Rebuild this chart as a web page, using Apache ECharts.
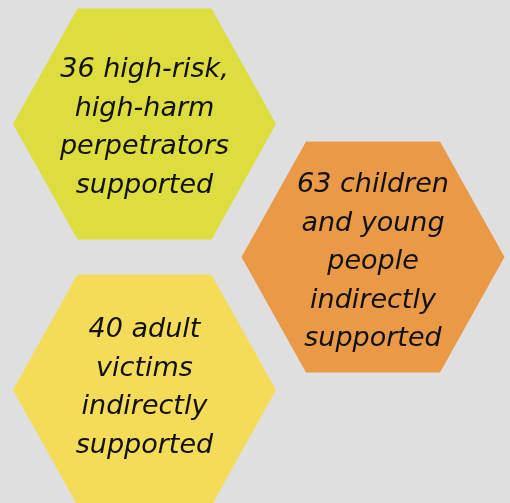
<!DOCTYPE html>
<html>
<head>
<meta charset="utf-8">
<script src="https://cdn.jsdelivr.net/npm/echarts@6/dist/echarts.min.js"></script>
<style>
html,body{margin:0;padding:0;background:#e0dfe0;}
#c{width:510px;height:503px;}
</style>
</head>
<body>
<div id="c"></div>
<script>
// Data
var values = [36, 63, 40];
var descriptions = [
  'high-risk,\nhigh-harm\nperpetrators\nsupported',
  'children\nand young\npeople\nindirectly\nsupported',
  'adult\nvictims\nindirectly\nsupported'
];
var colors = ['#dddd3e', '#ea9a47', '#f5dc58'];
// honeycomb slots (column, row)
var slots = [[0, 0], [1, 1], [0, 2]];

var chart = echarts.init(document.getElementById('c'));
var seriesData = values.map(function (v, i) {
  return { value: [slots[i][0], slots[i][1], v], itemStyle: { color: colors[i] } };
});

chart.setOption({
  backgroundColor: '#e0dfe0',
  animation: false,
  grid: { left: 144.5, right: 137, top: 124, bottom: 113 },
  xAxis: { type: 'value', min: 0, max: 1, show: false },
  yAxis: { type: 'value', min: 0, max: 2, inverse: true, show: false },
  series: [{
    type: 'custom',
    data: seriesData,
    renderItem: function (params, api) {
      var c = api.coord([api.value(0), api.value(1)]);
      var hw = 131.5, hh = 115.5, tw = 67;
      var idx = params.dataIndex;
      var pts = [
        [c[0] - tw, c[1] - hh], [c[0] + tw, c[1] - hh], [c[0] + hw, c[1]],
        [c[0] + tw, c[1] + hh], [c[0] - tw, c[1] + hh], [c[0] - hw, c[1]]
      ];
      var txt = api.value(2) + ' ' + descriptions[idx];
      var dy = [4, 5, -2][idx];
      return {
        type: 'group',
        children: [{
          type: 'polygon',
          shape: { points: pts },
          style: { fill: colors[idx] }
        }, {
          type: 'text',
          x: c[0], y: c[1] + dy,
          style: {
            text: txt,
            fill: '#111',
            font: 'italic 27px "DejaVu Sans", sans-serif',
            lineHeight: 38.5,
            align: 'center',
            verticalAlign: 'middle'
          }
        }]
      };
    }
  }]
});
</script>
</body>
</html>
